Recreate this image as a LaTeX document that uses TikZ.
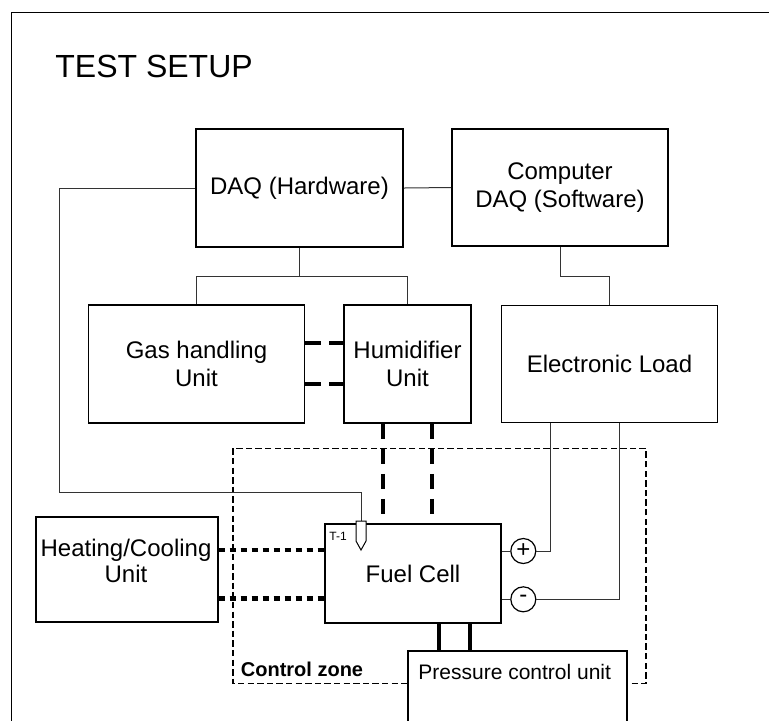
\documentclass[tikz,border=0pt]{standalone}
\usepackage{fontspec}
\setmainfont{Liberation Sans}

\begin{document}
\begin{tikzpicture}[x=0.5pt, y=-0.5pt,
    unit/.style={draw, line width=0.8pt, inner sep=0pt, align=center, font=\fontsize{12}{14}\selectfont},
    wire/.style={draw=black!80, line width=0.5pt},
    gasline/.style={line width=2pt, dash pattern=on 8pt off 4pt},
    waterline/.style={line width=2pt, dash pattern=on 7.5pt off 5pt},
    heatline/.style={line width=2.2pt, dash pattern=on 3pt off 2.5pt},
    pole/.style={draw, circle, line width=0.6pt, minimum size=12.5pt, inner sep=0pt, fill=white, font=\fontsize{12}{12}\selectfont}]
            \useasboundingbox (0,0) rectangle (769,720);
            \clip (0,0) rectangle (769,720);
            % frame and title
            \draw[line width=0.5pt] (11.5,12) rectangle (800,760);
            \node[anchor=west, inner sep=0pt, font=\fontsize{16}{18}\selectfont] (title) at (55,66) {TEST SETUP};
            % control zone
            \draw[line width=0.75pt, dash pattern=on 3.2pt off 1.6pt] (233,448.3) rectangle (646,683.3);
            \node[anchor=west, inner sep=0pt, font=\bfseries\fontsize{10}{12}\selectfont] (zonetxt) at (240.5,669) {Control zone};
            % units
            \node[unit, minimum width=103.5pt, minimum height=59pt] (daq) at (299.5,188) {DAQ (Hardware)};
            \node[unit, minimum width=108pt, minimum height=58.5pt] (comp) at (560,187.5) {Computer\\DAQ (Software)};
            \node[unit, minimum width=108pt, minimum height=59pt] (gas) at (196.5,364) {Gas handling\\Unit};
            \node[unit, minimum width=63.5pt, minimum height=59pt] (hum) at (407.5,364) {Humidifier\\Unit};
            \node[unit, minimum width=108pt, minimum height=58.5pt] (load) at (609.5,364) {Electronic Load};
            \node[unit, line width=1pt, minimum width=90.75pt, minimum height=52.5pt] (heat) at (126.75,569.2) {};
            \node[inner sep=0pt, align=center, font=\fontsize{12}{13.2}\selectfont] (heattxt) at (126,561) {Heating/Cooling\\Unit};
            \node[unit, line width=1pt, minimum width=88pt, minimum height=49.2pt] (fc) at (413,573.5) {Fuel Cell};
            \node[unit, line width=1pt, fill=white, minimum width=109.5pt, minimum height=54.65pt] (press) at (517.2,705.35) {};
            \node[inner sep=0pt, font=\fontsize{10.5}{12}\selectfont] (presstxt) at (514.7,672) {Pressure control unit};
            % gas and water lines
            \coordinate (gasout1) at ([yshift=10.35pt]gas.east);
            \coordinate (gasout2) at ([yshift=-10.15pt]gas.east);
            \draw[gasline] (gasout1) -- (gasout1 -| hum.west);
            \draw[gasline] (gasout2) -- (gasout2 -| hum.west);
            \coordinate (humout1) at ([xshift=-12.25pt]hum.south);
            \coordinate (humout2) at ([xshift=12.25pt]hum.south);
            \draw[waterline] (humout1) -- (humout1 |- fc.north);
            \draw[waterline] (humout2) -- (humout2 |- fc.north);
            \coordinate (fcin1) at ([yshift=11.75pt]fc.west);
            \coordinate (fcin2) at ([yshift=-12.4pt]fc.west);
            \draw[heatline] (fcin1 -| heat.east) -- (fcin1);
            \draw[heatline] (fcin2 -| heat.east) -- (fcin2);
            \coordinate (fcout1) at ([xshift=13.15pt]fc.south);
            \coordinate (fcout2) at ([xshift=28.65pt]fc.south);
            \draw[line width=2pt] (fcout1) -- (fcout1 |- press.north);
            \draw[line width=2pt] (fcout2) -- (fcout2 |- press.north);
            % signal wires
            \coordinate (tc) at (361,521);
            \draw[wire] (daq.east) -- (comp.west);
            \draw[wire] (daq.south) -- ++(0,29) coordinate (daqfork);
            \draw[wire] (gas.north) |- (daqfork) -| (hum.north);
            \draw[wire] (comp.south) -- ++(0,30) -| (load.north);
            \draw[wire] (daq.west) -| (59,492) -| (tc);
            % poles
            \node[pole] (plus) at (523.3,551) {+};
            \node[pole] (minus) at (523.3,599.3) {-};
            \draw[wire] (plus.west) -- (plus.west -| fc.east);
            \draw[wire] (minus.west) -- (minus.west -| fc.east);
            \draw[wire] (plus.east) -| ([xshift=-29.75pt]load.south);
            \draw[wire] (minus.east) -| ([xshift=4.75pt]load.south);
            % thermocouple
            \draw[line width=0.5pt, fill=white] (tc) ++(-5,0) -- ++(0,20) -- ++(5,9) -- ++(5,-9) -- ++(0,-20) -- cycle;
            \node[inner sep=0pt, font=\fontsize{6}{7}\selectfont] (tlabel) at (338,536) {T-1};
\end{tikzpicture}
\end{document}
